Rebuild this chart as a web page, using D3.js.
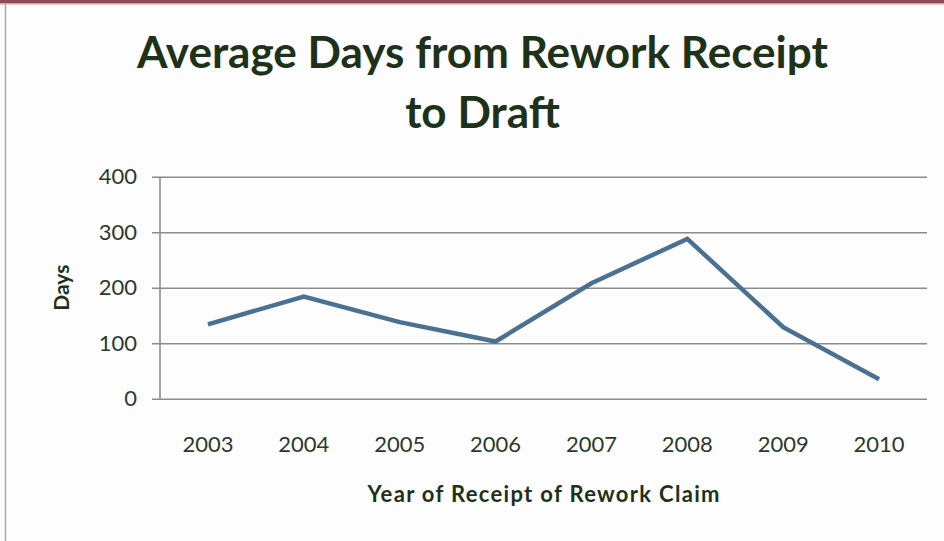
<!DOCTYPE html>
<html>
<head>
<meta charset="utf-8">
<script src="https://cdn.jsdelivr.net/npm/d3@7"></script>
<style>
  html, body { margin: 0; padding: 0; background: #fdfdfd; }
  svg { display: block; }
</style>
</head>
<body>
<svg id="chart" width="944" height="541"></svg>
<script>
// Average days from rework receipt to draft, by year of receipt
const years = ["2003", "2004", "2005", "2006", "2007", "2008", "2009", "2010"];
const days = [134, 184, 138, 103, 208, 288, 129, 35];
const yTicks = [0, 100, 200, 300, 400];
const titleLines = ["Average Days from Rework Receipt", "to Draft"];
const xTitle = "Year of Receipt of Rework Claim";
const yTitle = "Days";

const W = 944, H = 541;
const plot = { left: 160, right: 927, top: 176.7, bottom: 398.7 };
const textColor = "#1d3219";
const tickColor = "#2c3a29";
const font = "Lato, 'Open Sans', sans-serif";

const svg = d3.select("#chart");

// page frame: thin maroon rule on top, grey rule on the left
svg.append("rect").attr("x", 0).attr("y", 0).attr("width", W).attr("height", H).attr("fill", "#fdfdfd");
svg.append("rect").attr("x", 0).attr("y", 0).attr("width", W).attr("height", 3).attr("fill", "#8e4a58");
svg.append("rect").attr("x", 0).attr("y", 3).attr("width", W).attr("height", 1.5).attr("fill", "#c9a3ab");
svg.append("line").attr("x1", 5.5).attr("x2", 5.5).attr("y1", 4).attr("y2", H)
  .attr("stroke", "#a9a9a9").attr("stroke-width", 1.5);

const x = d3.scaleBand().domain(years).range([plot.left, plot.right]);
const y = d3.scaleLinear().domain([0, 400]).range([plot.bottom, plot.top]);

// horizontal gridlines with small left ticks
const yAxis = d3.axisLeft(y).tickValues(yTicks).tickSize(-(plot.right - plot.left)).tickPadding(15).tickSizeOuter(0);
const gy = svg.append("g").attr("transform", `translate(${plot.left},0)`).call(yAxis);
gy.select(".domain").remove();
gy.selectAll(".tick line")
  .attr("x1", -8)
  .attr("stroke", "#8c8c8c").attr("stroke-width", 1.6);
gy.selectAll(".tick text")
  .attr("x", -23)
  .attr("fill", tickColor).attr("font-family", font).attr("font-size", 22);

// vertical axis line
svg.append("line")
  .attr("x1", plot.left).attr("x2", plot.left)
  .attr("y1", y(400)).attr("y2", y(0))
  .attr("stroke", "#8c8c8c").attr("stroke-width", 1.6);

// category labels
const xAxis = d3.axisBottom(x).tickSize(0).tickPadding(38);
const gx = svg.append("g").attr("transform", `translate(0,${plot.bottom})`).call(xAxis);
gx.select(".domain").remove();
gx.selectAll(".tick text")
  .attr("fill", tickColor).attr("font-family", font).attr("font-size", 22);

// data line
const line = d3.line()
  .x((d, i) => x(years[i]) + x.bandwidth() / 2)
  .y(d => y(d));
svg.append("path")
  .datum(days)
  .attr("d", line)
  .attr("fill", "none")
  .attr("stroke", "#4a7192")
  .attr("stroke-width", 4.5)
  .attr("stroke-linejoin", "miter");

// title, fitted to its set width
const title = svg.append("g");
const t1 = title.append("text")
  .attr("x", 482.5).attr("y", 68)
  .attr("text-anchor", "middle")
  .attr("font-family", font).attr("font-weight", 700).attr("font-size", 36)
  .attr("fill", textColor).text(titleLines[0]);
const w1 = t1.node().getComputedTextLength();
const titleSize = 36 * 691 / w1;
t1.attr("font-size", titleSize);
title.append("text")
  .attr("x", 482.5).attr("y", 128)
  .attr("text-anchor", "middle")
  .attr("font-family", font).attr("font-weight", 700).attr("font-size", titleSize)
  .attr("fill", textColor).text(titleLines[1]);

// axis titles
svg.append("text")
  .attr("x", (plot.left + plot.right) / 2).attr("y", 502)
  .attr("text-anchor", "middle")
  .attr("font-family", font).attr("font-weight", 700).attr("font-size", 22)
  .attr("textLength", 352).attr("lengthAdjust", "spacing")
  .attr("fill", textColor).text(xTitle);

svg.append("text")
  .attr("transform", `translate(69,${y(200)}) rotate(-90)`)
  .attr("text-anchor", "middle")
  .attr("font-family", font).attr("font-weight", 700).attr("font-size", 21)
  .attr("fill", textColor).text(yTitle);
</script>
</body>
</html>
